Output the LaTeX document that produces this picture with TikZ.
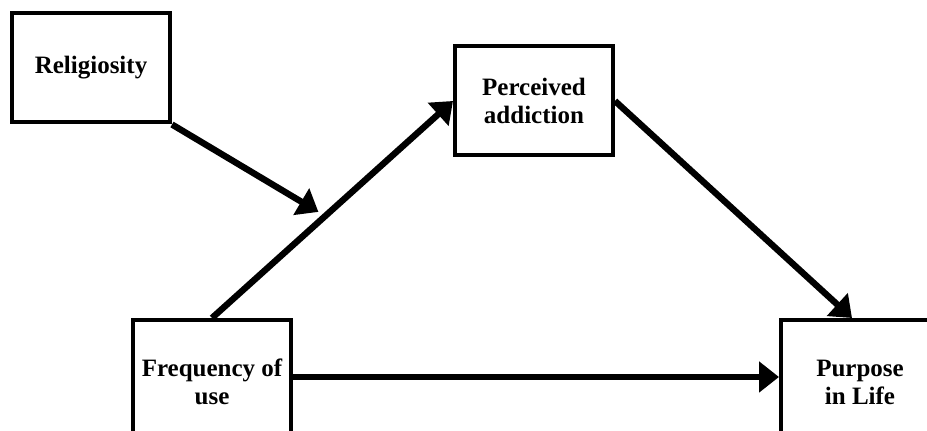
\documentclass[tikz,border=0pt]{standalone}
\usepackage{fontspec}
\setmainfont{Liberation Serif}
\usetikzlibrary{arrows.meta}
\begin{document}
\begin{tikzpicture}[x=0.5pt,y=-0.5pt,>={Triangle[length=10pt,width=15pt]},
  main node/.style={rectangle,draw,line width=2pt,align=center,
  font=\fontsize{12.5}{14}\selectfont\bfseries,
  minimum width=79pt,minimum height=54.5pt,inner sep=0pt},
  low node/.style={main node,minimum height=62pt}]
  \useasboundingbox (0,0) rectangle (927,431);
  \clip (0,0) rectangle (927,431);

  \node[main node] (rel) at (91,68) {Religiosity};
  \node[main node] (perc) at (534,101) {Perceived\\addiction};
  \node[low node] (freq) at (212,382) {Frequency of\\use};
  \node[low node] (purp) at (860,382) {Purpose\\in Life};

  % point on the path where the moderator arrow lands
  \path (freq.north) -- (perc.west) coordinate[pos=0.47] (mod);

  \path[->,line width=3.2pt]
    (freq.north) edge (perc.west)
    ([yshift=2.5pt]freq.east) edge ([yshift=2.5pt]purp.west)
    (perc.east) edge ([xshift=-4pt]purp.north)
    (rel.south east) edge[shorten >=4pt] (mod);
\end{tikzpicture}
\end{document}
